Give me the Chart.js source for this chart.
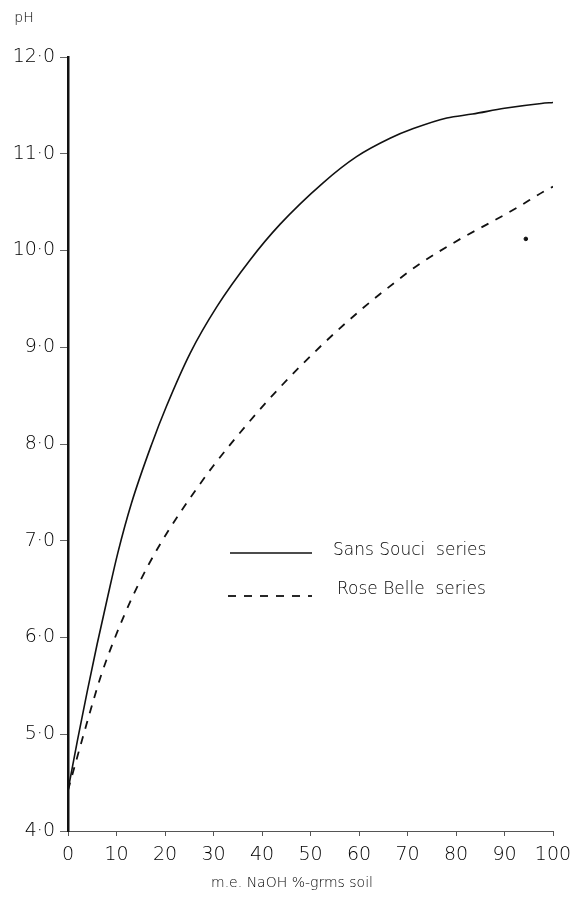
<!DOCTYPE html>
<html>
<head>
<meta charset="utf-8">
<title>Titration curves, Sans Souci and Rose Belle series</title>
<script src="https://cdn.jsdelivr.net/npm/chart.js@4.4.1/dist/chart.umd.min.js"></script>
<style>
  html, body { margin: 0; padding: 0; background: #fff; }
  #wrap { width: 583px; height: 910px; }
</style>
</head>
<body>
<div id="wrap"><canvas id="chart" width="583" height="910"></canvas></div>
<script>
// NaOH added (m.e. per 100 g soil) and resulting pH, Sans Souci series
const sansSouciNaOH = [0, 2, 4, 6, 8, 10.3, 13.1, 17.2, 20.3, 25.2, 30.7, 37.5, 43.7, 52.6, 59.5, 66.4, 71.2, 78.1, 83.4, 90, 97.6, 100];
const sansSouciPH   = [4.42, 4.95, 5.45, 5.93, 6.38, 6.88, 7.39, 7.99, 8.39, 8.94, 9.42, 9.90, 10.27, 10.70, 10.97, 11.16, 11.26, 11.37, 11.41, 11.47, 11.52, 11.53];

// Rose Belle series
const roseBelleNaOH = [0, 1.1, 3.8, 6.9, 9.7, 13.1, 16.8, 20.9, 26.7, 29.9, 36.7, 43.6, 52.5, 60.7, 67.9, 71.9, 80.9, 86.4, 92.5, 98.1, 100];
const roseBellePH   = [4.42, 4.62, 5.10, 5.62, 6.00, 6.40, 6.77, 7.12, 7.55, 7.77, 8.19, 8.58, 9.03, 9.40, 9.69, 9.84, 10.12, 10.27, 10.44, 10.61, 10.66];

// isolated plotted mark
const strayNaOH = [94.4];
const strayPH   = [10.12];

const seriesNames = ['Sans Souci  series', 'Rose Belle  series'];
const xTickValues = [0, 10, 20, 30, 40, 50, 60, 70, 80, 90, 100];
const yTickLabels = { 4: '4·0', 5: '5·0', 6: '6·0', 7: '7·0', 8: '8·0', 9: '9·0', 10: '10·0', 11: '11·0', 12: '12·0' };
const xAxisTitle = 'm.e. NaOH %-grms soil';
const yAxisTitle = 'pH';

const toPoints = (xs, ys) => xs.map((x, i) => ({ x: x, y: ys[i] }));

const INK = '#111';
const TEXT = '#000';
const FONT = '"DejaVu Sans", sans-serif';

// legend and axis captions drawn onto the canvas
const captions = {
  id: 'captions',
  afterDatasetsDraw(chart) {
    const ctx = chart.ctx;
    ctx.save();
    ctx.fillStyle = TEXT;
    ctx.strokeStyle = INK;

    // legend rows
    const rows = [
      { ds: chart.data.datasets[0], x0: 230, x1: 312, y: 553, tx: 333, ty: 551 },
      { ds: chart.data.datasets[1], x0: 228, x1: 312, y: 596, tx: 337, ty: 590 }
    ];
    rows.forEach(r => {
      ctx.beginPath();
      ctx.lineWidth = r.ds.borderWidth;
      ctx.setLineDash(r.ds.borderDash || []);
      ctx.moveTo(r.x0, r.y);
      ctx.lineTo(r.x1, r.y);
      ctx.stroke();
      ctx.setLineDash([]);
      ctx.font = '200 17px ' + FONT;
      ctx.textAlign = 'left';
      ctx.textBaseline = 'middle';
      ctx.fillText(r.ds.label, r.tx, r.ty);
    });

    // axis titles
    ctx.font = '200 14px ' + FONT;
    ctx.textAlign = 'center';
    ctx.textBaseline = 'middle';
    ctx.fillText(xAxisTitle, 292, 883);
    ctx.font = '200 14px ' + FONT;
    ctx.fillText(yAxisTitle, 24, 18);
    ctx.restore();
  }
};

new Chart(document.getElementById('chart'), {
  type: 'line',
  data: {
    datasets: [
      {
        label: seriesNames[0],
        data: toPoints(sansSouciNaOH, sansSouciPH),
        borderColor: INK,
        borderWidth: 1.6,
        pointRadius: 0,
        cubicInterpolationMode: 'monotone',
        fill: false
      },
      {
        label: seriesNames[1],
        data: toPoints(roseBelleNaOH, roseBellePH),
        borderColor: INK,
        borderWidth: 1.8,
        borderDash: [8, 8],
        pointRadius: 0,
        cubicInterpolationMode: 'monotone',
        fill: false
      },
      {
        type: 'scatter',
        label: '',
        data: toPoints(strayNaOH, strayPH),
        backgroundColor: INK,
        borderColor: INK,
        pointRadius: 1.8,
        showLine: false
      }
    ]
  },
  options: {
    responsive: false,
    animation: false,
    layout: { padding: { top: 57, right: 30, bottom: 0, left: 0 } },
    plugins: {
      legend: { display: false },
      tooltip: { enabled: false },
      title: { display: false }
    },
    scales: {
      x: {
        type: 'linear',
        min: 0,
        max: 100,
        afterFit(scale) { scale.height = 79; },
        afterBuildTicks(scale) { scale.ticks = xTickValues.map(v => ({ value: v })); },
        ticks: {
          color: TEXT,
          font: { family: FONT, size: 19, weight: '200' },
          padding: 8,
          maxRotation: 0,
          autoSkip: false,
          callback: v => String(v)
        },
        grid: { drawOnChartArea: false, drawTicks: true, tickLength: 5, color: '#555', lineWidth: 1 },
        border: { display: true, color: '#555', width: 1, dash: [7, 2] }
      },
      y: {
        type: 'linear',
        min: 4,
        max: 12,
        afterFit(scale) { scale.width = 68; },
        ticks: {
          stepSize: 1,
          color: TEXT,
          font: { family: FONT, size: 19, weight: '200' },
          padding: 5,
          callback: v => yTickLabels[v] || ''
        },
        grid: { drawOnChartArea: false, drawTicks: true, tickLength: 8, color: '#666', lineWidth: 1 },
        border: { display: true, color: '#111', width: 2.5 }
      }
    }
  },
  plugins: [captions]
});
</script>
</body>
</html>
